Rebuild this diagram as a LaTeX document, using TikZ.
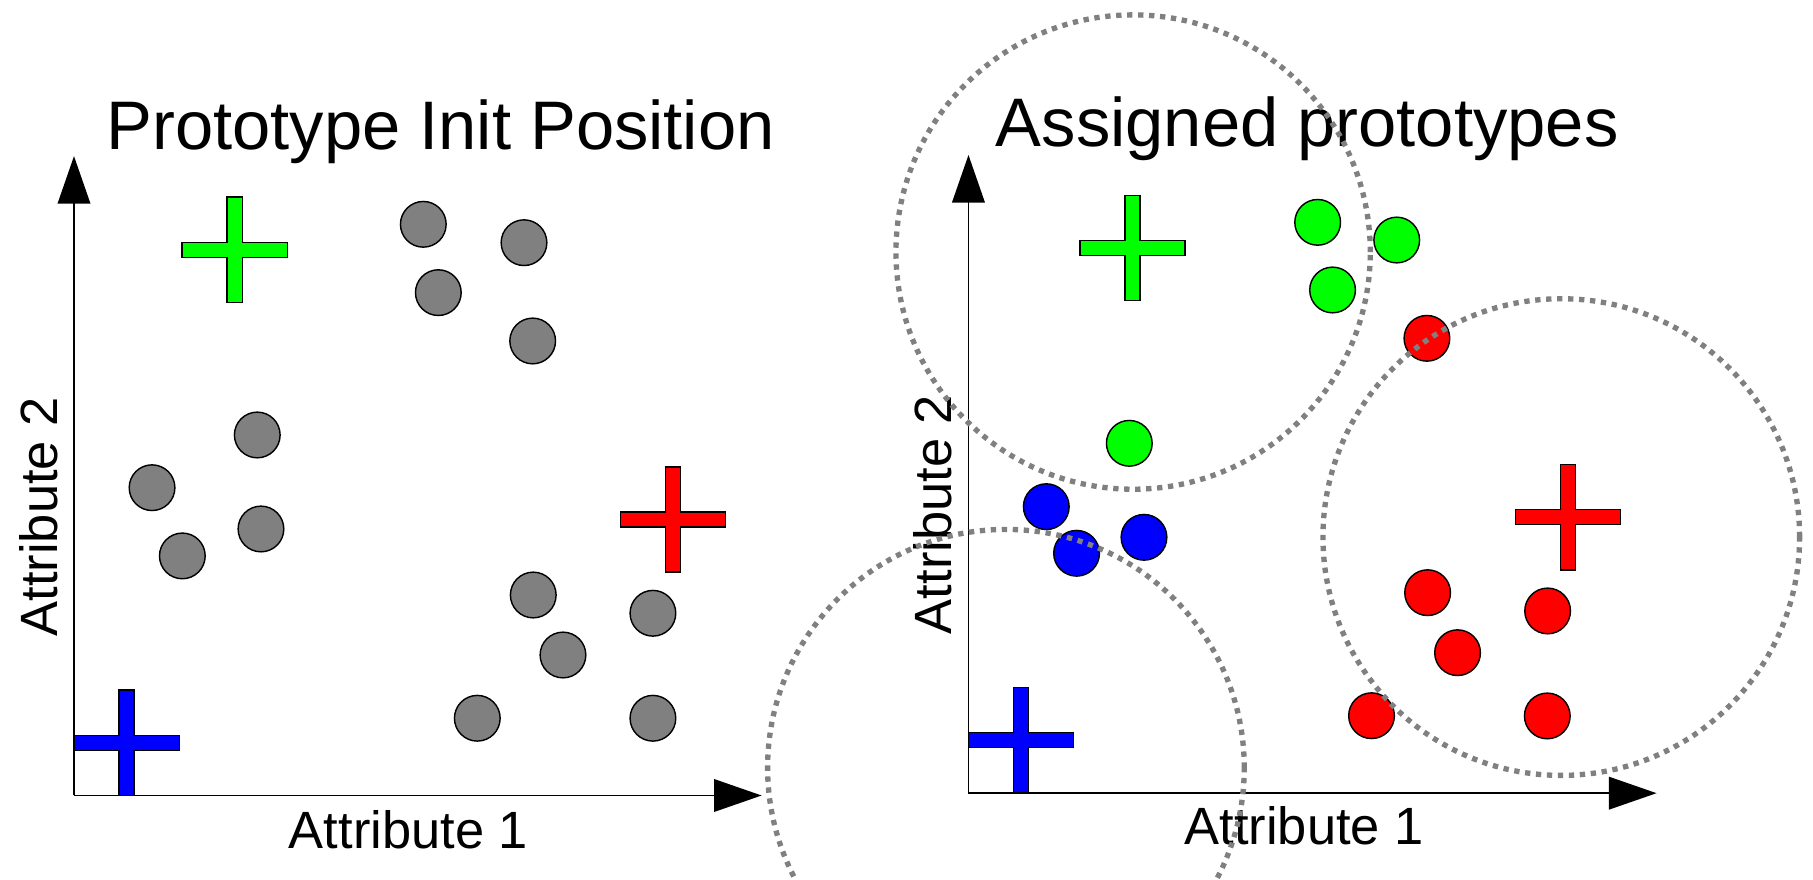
\documentclass[tikz,border=0pt]{standalone}
\usepackage{fontspec}
\setmainfont{Liberation Sans}
\usetikzlibrary{arrows.meta}
\definecolor{pgreen}{HTML}{00FF00}
\definecolor{pred}{HTML}{FF0000}
\definecolor{pblue}{HTML}{0000FF}
\definecolor{pgrey}{HTML}{808080}
\tikzset{
  axisline/.style={line width=0.45pt, -{Triangle[length=11.7pt,width=8pt]}},
  datapt/.style={circle, draw=black, line width=0.35pt, inner sep=0pt, minimum size=3.95mm, fill=#1},
  cluster/.style={draw=pgrey, line width=1.31pt, dash pattern=on 1.31pt off 1.39pt},
  titletext/.style={inner sep=0pt, anchor=base, font=\fontsize{16.9pt}{20pt}\selectfont},
  labeltext/.style={inner sep=0pt, anchor=base, font=\fontsize{12.9pt}{15pt}\selectfont},
  proto/.pic={
    \draw[fill=#1, draw=black, line width=0.35pt]
      (-45.5,-6.5) -- (-6.5,-6.5) -- (-6.5,-45.5) -- (6.5,-45.5) -- (6.5,-6.5) -- (45.5,-6.5)
      -- (45.5,6.5) -- (6.5,6.5) -- (6.5,45.5) -- (-6.5,45.5) -- (-6.5,6.5) -- (-45.5,6.5) -- cycle;
  }
}
\begin{document}
\begin{tikzpicture}[x=0.01cm,y=-0.01cm]
\useasboundingbox (0,0) rectangle (1568,761);

% ---------- left panel ----------
\node[titletext] (title1) at (381,129) {Prototype Init Position};
\coordinate (O1) at (64,688);
\coordinate (Y1) at (64,135);
\coordinate (X1) at (658.7,688);
\draw[axisline] (O1) -- (Y1);
\draw[axisline] (O1) -- (X1);
\node[labeltext] (xlab1) at (353.3,733.6) {Attribute 1};
\node[labeltext, rotate=90] (ylab1) at (50,447) {Attribute 2};

\node[datapt=pgrey] (a1) at (366.1,194) {};
\node[datapt=pgrey] (a2) at (453.2,209.9) {};
\node[datapt=pgrey] (a3) at (379.1,253.1) {};
\node[datapt=pgrey] (a4) at (460.7,294.9) {};
\node[datapt=pgrey] (a5) at (222.5,376.2) {};
\node[datapt=pgrey] (a6) at (131.5,421.8) {};
\node[datapt=pgrey] (a7) at (225.7,457.5) {};
\node[datapt=pgrey] (a8) at (157.7,480.8) {};
\node[datapt=pgrey] (a9) at (461.2,514.6) {};
\node[datapt=pgrey] (a10) at (564.7,530.4) {};
\node[datapt=pgrey] (a11) at (486.9,566.5) {};
\node[datapt=pgrey] (a12) at (412.8,621.2) {};
\node[datapt=pgrey] (a13) at (564.7,621.2) {};

\pic at (203,216) {proto=pgreen};
\pic at (582,449.3) {proto=pred};
\pic at (109.5,642.4) {proto=pblue};

% ---------- right panel ----------
\node[titletext] (title2) at (1130.6,126.5) {Assigned prototypes};
\coordinate (O2) at (837.6,686);
\coordinate (Y2) at (837.6,134);
\coordinate (X2) at (1432.7,686);
\draw[axisline] (O2) -- (Y2);
\draw[axisline] (O2) -- (X2);
\node[labeltext] (xlab2) at (1127.9,730.8) {Attribute 1};
\node[labeltext, rotate=90] (ylab2) at (823,445) {Attribute 2};

\node[datapt=pgreen] (g1) at (1139.6,192.3) {};
\node[datapt=pgreen] (g2) at (1208,207.6) {};
\node[datapt=pgreen] (g3) at (1152.5,250.8) {};
\node[datapt=pgreen] (g4) at (976.7,383.4) {};
\node[datapt=pblue] (b1) at (904.9,438.2) {};
\node[datapt=pblue] (b2) at (931.1,478.5) {};
\node[datapt=pblue] (b3) at (989.4,464.7) {};
\node[datapt=pred] (r1) at (1234.1,292.6) {};
\node[datapt=pred] (r2) at (1234.7,512.6) {};
\node[datapt=pred] (r3) at (1338.5,528.4) {};
\node[datapt=pred] (r4) at (1260.6,564.5) {};
\node[datapt=pred] (r5) at (1186.2,619) {};
\node[datapt=pred] (r6) at (1338.2,619.2) {};

\pic at (979.5,214.5) {proto=pgreen};
\pic at (1356,447.3) {proto=pred};
\pic at (883,640.2) {proto=pblue};

% cluster boundaries
\coordinate (cg) at (980,218);
\coordinate (cr) at (1350.3,464.5);
\coordinate (cb) at (870,664);
\draw[cluster] (cg) circle[radius=2.05cm];
\draw[cluster] (cr) circle[radius=2.06cm];
\draw[cluster] (cb) circle[radius=2.06cm];
\end{tikzpicture}
\end{document}
